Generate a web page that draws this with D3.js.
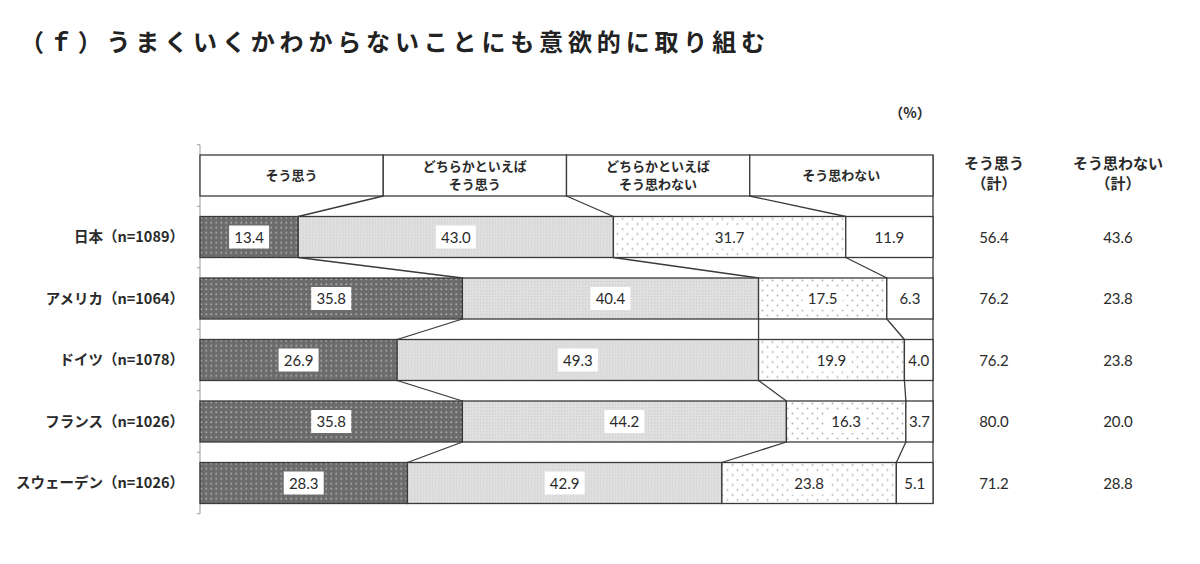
<!DOCTYPE html>
<html>
<head>
<meta charset="utf-8">
<script src="https://cdn.jsdelivr.net/npm/d3@7"></script>
<style>
  body { margin: 0; background: #fff; }
  svg { display: block; font-family: "Noto Sans CJK JP", "Noto Sans", sans-serif; }
  .num { font-family: Lato, "Noto Sans", sans-serif; }
</style>
</head>
<body>
<script>
//------------------------------------------------------------------------------
//
// Data
//
//------------------------------------------------------------------------------

var title = "（ｆ）うまくいくかわからないことにも意欲的に取り組む";

var categories = ["日本（n=1089）", "アメリカ（n=1064）", "ドイツ（n=1078）", "フランス（n=1026）", "スウェーデン（n=1026）"];

var seriesNames = ["そう思う", "どちらかといえば\nそう思う", "どちらかといえば\nそう思わない", "そう思わない"];

var agree          = [13.4, 35.8, 26.9, 35.8, 28.3];
var ratherAgree    = [43.0, 40.4, 49.3, 44.2, 42.9];
var ratherDisagree = [31.7, 17.5, 19.9, 16.3, 23.8];
var disagree       = [11.9, 6.3, 4.0, 3.7, 5.1];

var totalAgree    = [56.4, 76.2, 76.2, 80.0, 71.2];
var totalDisagree = [43.6, 23.8, 23.8, 20.0, 28.8];

var totalHeaders = [["そう思う", "（計）"], ["そう思わない", "（計）"]];

//------------------------------------------------------------------------------
//
// Layout
//
//------------------------------------------------------------------------------

var W = 1200, H = 564;
var left = 200, right = 933;
var stroke = "#3a3a3a";
var textColor = "#2a2a2a";

var svg = d3.select("body").append("svg")
  .attr("width", W)
  .attr("height", H);

var x = d3.scaleLinear().domain([0, 100]).range([left, right]).clamp(true);

var rows = ["header"].concat(categories);
var y = d3.scaleBand()
  .domain(rows)
  .range([144.75, 144.75 + rows.length * 61.5])
  .paddingInner(1/3)
  .paddingOuter(1/6);

var headerX = d3.scaleBand().domain(seriesNames).range([left, right]);

var series = [agree, ratherAgree, ratherDisagree, disagree];

//--------------------------------------
// Patterns
//--------------------------------------

var defs = svg.append("defs");

function dotPattern(id, size, bg, dot, r, offset) {
  var p = defs.append("pattern")
    .attr("id", id)
    .attr("patternUnits", "userSpaceOnUse")
    .attr("width", size)
    .attr("height", size);
  p.append("rect").attr("width", size).attr("height", size).attr("fill", bg);
  p.append("circle").attr("cx", size/4).attr("cy", size/4).attr("r", r).attr("fill", dot);
  if(offset) {
    p.append("circle").attr("cx", size*3/4).attr("cy", size*3/4).attr("r", r).attr("fill", dot);
  }
}

dotPattern("pDark", 5, "#6b6b6b", "#a9a9a9", 1.0, false);
dotPattern("pLight", 3, "#e0e0e0", "#cbcbcb", 0.7, false);
dotPattern("pDots", 10, "#ffffff", "#b5b5b5", 1.0, true);

var fills = ["url(#pDark)", "url(#pLight)", "url(#pDots)", "#ffffff"];

//------------------------------------------------------------------------------
//
// Title
//
//------------------------------------------------------------------------------

svg.append("text")
  .attr("x", 20)
  .attr("y", 51)
  .attr("font-size", 24)
  .attr("font-weight", "bold")
  .attr("fill", "#222")
  .attr("textLength", 745)
  .attr("lengthAdjust", "spacing")
  .text(title);

svg.append("text")
  .attr("x", 910)
  .attr("y", 118)
  .attr("font-size", 14)
  .attr("font-weight", "bold")
  .attr("text-anchor", "middle")
  .attr("fill", textColor)
  .text("（%）");

//------------------------------------------------------------------------------
//
// Axis
//
//------------------------------------------------------------------------------

var tickYs = d3.range(rows.length + 1).map(function(i) { return y.range()[0] + i * y.step(); });

svg.append("line")
  .attr("x1", left).attr("x2", left)
  .attr("y1", tickYs[0]).attr("y2", tickYs[tickYs.length-1])
  .attr("stroke", "#999").attr("stroke-width", 1);

svg.selectAll(".tick")
  .data(tickYs)
  .enter().append("line")
  .attr("x1", left - 3).attr("x2", left)
  .attr("y1", function(d) { return d; }).attr("y2", function(d) { return d; })
  .attr("stroke", "#999");

// right border of the plot
svg.append("line")
  .attr("x1", right).attr("x2", right)
  .attr("y1", y("header")).attr("y2", y(categories[categories.length-1]) + y.bandwidth())
  .attr("stroke", stroke).attr("stroke-width", 1.3);

//------------------------------------------------------------------------------
//
// Header row (legend)
//
//------------------------------------------------------------------------------

var header = svg.append("g");

header.selectAll("rect")
  .data(seriesNames)
  .enter().append("rect")
  .attr("x", function(d) { return headerX(d); })
  .attr("y", y("header"))
  .attr("width", headerX.bandwidth())
  .attr("height", y.bandwidth())
  .attr("fill", "#fff")
  .attr("stroke", stroke)
  .attr("stroke-width", 1.3);

header.selectAll("text")
  .data(seriesNames)
  .enter().append("text")
  .attr("text-anchor", "middle")
  .attr("font-size", 13)
  .attr("font-weight", "bold")
  .attr("fill", textColor)
  .each(function(d) {
    var lines = d.split("\n");
    var cx = headerX(d) + headerX.bandwidth()/2;
    var cy = y("header") + y.bandwidth()/2;
    var t = d3.select(this);
    lines.forEach(function(line, i) {
      t.append("tspan")
        .attr("x", cx)
        .attr("y", cy + 4.5 + (i - (lines.length-1)/2) * 18)
        .text(line);
    });
  });

//------------------------------------------------------------------------------
//
// Bars
//
//------------------------------------------------------------------------------

var rowsData = categories.map(function(c, i) {
  var acc = 0;
  var segs = series.map(function(s, k) {
    var seg = {k: k, v: s[i], x0: acc, x1: acc + s[i]};
    acc += s[i];
    return seg;
  });
  return {name: c, segs: segs};
});

// connector lines between segment boundaries
var prevBounds = [25, 50, 75];
var prevBottom = y("header") + y.bandwidth();
var connectors = [];
rowsData.forEach(function(r) {
  var bounds = [r.segs[0].x1, r.segs[1].x1, r.segs[2].x1];
  bounds.forEach(function(b, k) {
    connectors.push({x1: x(prevBounds[k]), y1: prevBottom, x2: x(b), y2: y(r.name)});
  });
  prevBounds = bounds;
  prevBottom = y(r.name) + y.bandwidth();
});

svg.selectAll(".connector")
  .data(connectors)
  .enter().append("line")
  .attr("class", "connector")
  .attr("x1", function(d) { return d.x1; })
  .attr("y1", function(d) { return d.y1; })
  .attr("x2", function(d) { return d.x2; })
  .attr("y2", function(d) { return d.y2; })
  .attr("stroke", stroke)
  .attr("stroke-width", 1.3);

var rowG = svg.selectAll(".row")
  .data(rowsData)
  .enter().append("g")
  .attr("class", "row")
  .attr("transform", function(d) { return "translate(0," + y(d.name) + ")"; });

rowG.selectAll("rect")
  .data(function(d) { return d.segs; })
  .enter().append("rect")
  .attr("x", function(d) { return x(d.x0); })
  .attr("width", function(d) { return x(d.x1) - x(d.x0); })
  .attr("height", y.bandwidth())
  .attr("fill", function(d) { return fills[d.k]; })
  .attr("stroke", stroke)
  .attr("stroke-width", 1.3);

// value labels on white boxes
rowG.selectAll(".val")
  .data(function(d) { return d.segs; })
  .enter().append("g")
  .attr("class", "val")
  .each(function(d) {
    var g = d3.select(this);
    var cx = (x(d.x0) + x(Math.min(d.x1, 100))) / 2;
    var cy = y.bandwidth() / 2;
    var label = d.v.toFixed(1);
    var bw = Math.min(40, x(Math.min(d.x1, 100)) - x(d.x0) - 2);
    g.append("rect")
      .attr("x", cx - bw/2)
      .attr("y", cy - 11.5)
      .attr("width", bw)
      .attr("height", 23)
      .attr("fill", "#fff");
    g.append("text")
      .attr("class", "num")
      .attr("x", cx)
      .attr("y", cy + 5.5)
      .attr("text-anchor", "middle")
      .attr("font-size", 15)
      .attr("fill", textColor)
      .text(label);
  });

// category labels
rowG.append("text")
  .attr("x", 184)
  .attr("y", y.bandwidth()/2 + 5)
  .attr("text-anchor", "end")
  .attr("font-size", 14.5)
  .attr("font-weight", "bold")
  .attr("fill", textColor)
  .text(function(d) { return d.name; });

//------------------------------------------------------------------------------
//
// Totals columns
//
//------------------------------------------------------------------------------

var colX = [994, 1118];

svg.selectAll(".totHead")
  .data(totalHeaders)
  .enter().append("text")
  .attr("class", "totHead")
  .attr("text-anchor", "middle")
  .attr("font-size", 15)
  .attr("font-weight", "bold")
  .attr("fill", textColor)
  .each(function(d, i) {
    var t = d3.select(this);
    d.forEach(function(line, j) {
      t.append("tspan")
        .attr("x", colX[i])
        .attr("y", 169 + j * 20)
        .text(line);
    });
  });

[totalAgree, totalDisagree].forEach(function(vals, i) {
  svg.selectAll(".tot" + i)
    .data(vals)
    .enter().append("text")
    .attr("class", "num tot" + i)
    .attr("x", colX[i])
    .attr("y", function(d, j) { return y(categories[j]) + y.bandwidth()/2 + 5.5; })
    .attr("text-anchor", "middle")
    .attr("font-size", 15)
    .attr("fill", textColor)
    .text(function(d) { return d.toFixed(1); });
});
</script>
</body>
</html>
